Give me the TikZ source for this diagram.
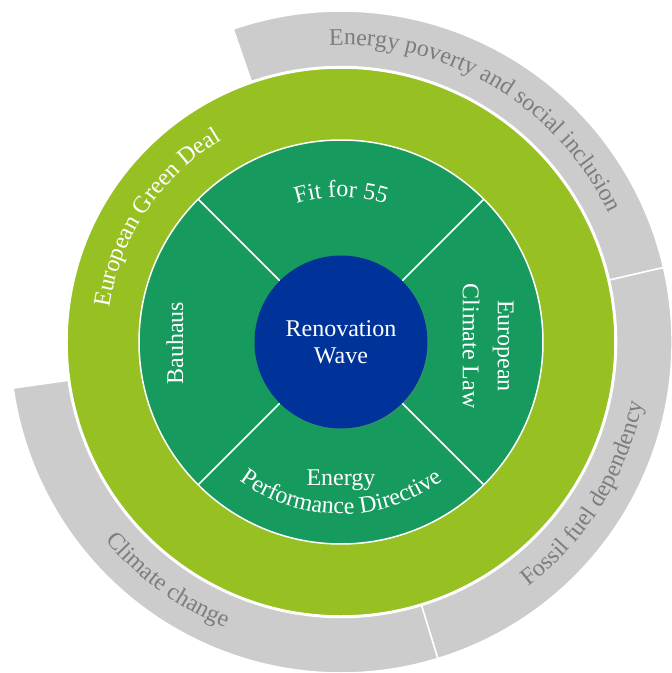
\documentclass[tikz,border=0pt]{standalone}
\usepackage{fontspec}
\setmainfont{Liberation Serif}
\usetikzlibrary{decorations.text,shadows}

\definecolor{ringgray}{RGB}{204,204,204}
\definecolor{textgray}{RGB}{125,125,125}
\definecolor{dealgreen}{RGB}{151,193,34}
\definecolor{policygreen}{RGB}{23,154,94}
\definecolor{waveblue}{RGB}{0,51,153}
\newcommand{\ringfont}{\fontsize{24}{27}\selectfont}

\begin{document}
\begin{tikzpicture}[x=1pt, y=1pt,
        ringseg/.style={fill=ringgray, draw=white, line width=1.5pt},
        disc/.style={draw=white, line width=1.5pt},
        hub/.style={circle, fill=waveblue, text=white, minimum size=173pt, inner sep=0pt, align=center, font=\ringfont,
            drop shadow={shadow xshift=1pt, shadow yshift=-1pt, opacity=0.3}},
        label/.style={text=white, font=\ringfont, align=center},
        graytext/.style={decorate, decoration={text along path, text align=center, text color=textgray, text={|\ringfont|#1}}},
        whitetext/.style={decorate, decoration={text along path, text align=center, text color=white, text={|\ringfont|#1}}}]

    \useasboundingbox (-341,-331) rectangle (331,342);

    % Challenges
    \filldraw[ringseg] (13:275.5) arc[start angle=13, end angle=109, radius=275.5] -- (109:331) arc[start angle=109, end angle=13, radius=331] -- cycle;
    \filldraw[ringseg] (-73:275.5) arc[start angle=-73, end angle=13, radius=275.5] -- (13:331) arc[start angle=13, end angle=-73, radius=331] -- cycle;
    \filldraw[ringseg] (188:275.5) arc[start angle=188, end angle=287, radius=275.5] -- (287:331) arc[start angle=287, end angle=188, radius=331] -- cycle;

    \path[graytext={Energy poverty and social inclusion}] (104:297) arc[start angle=104, end angle=14, radius=297];
    \path[graytext={Fossil fuel dependency}] (-72:308) arc[start angle=-72, end angle=8, radius=308];
    \path[graytext={Climate change}] (194:308) arc[start angle=194, end angle=274, radius=308];

    % Green Deal
    \filldraw[disc, fill=dealgreen] (0,0) circle[radius=274];
    \path[whitetext={European Green Deal}] (186:234) arc[start angle=186, end angle=106, radius=234];

    % Policies
    \filldraw[disc, fill=policygreen] (0,0) circle[radius=202];
    \node[hub] (wave) at (0,0) {Renovation\\Wave};
    \foreach \a in {45,135,225,315}
        \draw[white, line width=1.5pt] (wave.\a) -- (\a:202);

    \path[whitetext={Fit for 55}] (135:145) arc[start angle=135, end angle=45, radius=145];
    \node[label, rotate=90] (bauhaus) at (-166,-1) {Bauhaus};
    \node[label, rotate=-90] (climatelaw) at (147,-4) {European\\[8pt]Climate Law};
    \node[label, anchor=base] (energy) at (0,-143) {Energy};
    \path[whitetext={Performance Directive}] (225:172) arc[start angle=225, end angle=315, radius=172];
\end{tikzpicture}
\end{document}
